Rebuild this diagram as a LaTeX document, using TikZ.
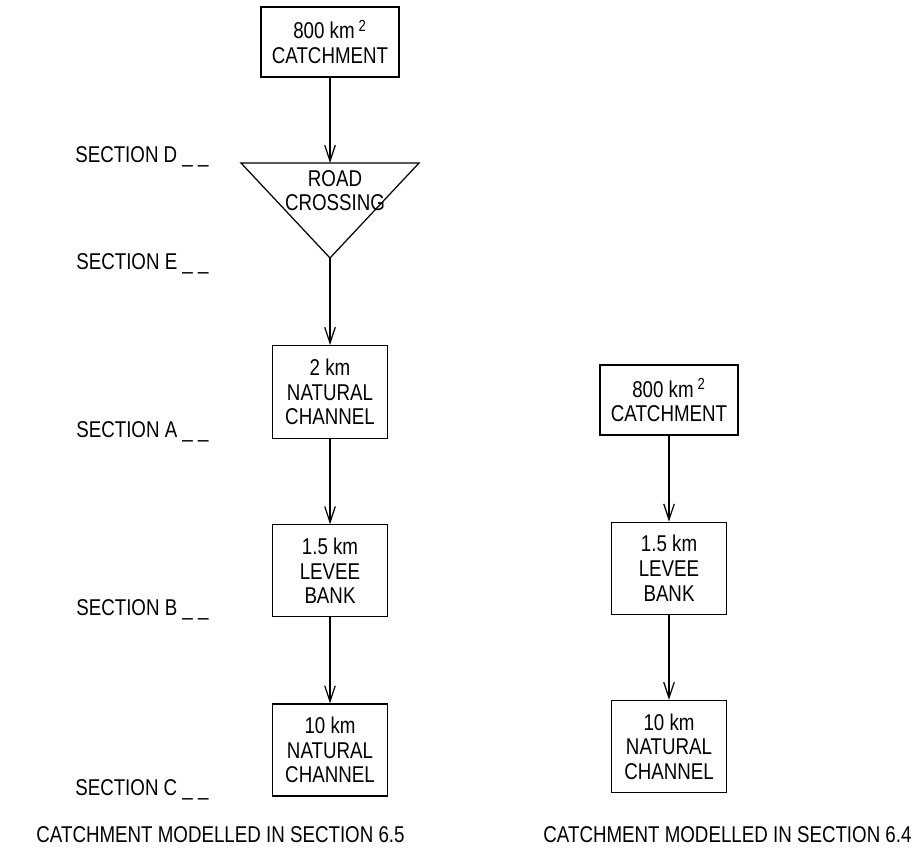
\documentclass[tikz,border=0pt]{standalone}
\usepackage{fontspec}
\setmainfont[FakeStretch=0.82]{Liberation Sans}
\usetikzlibrary{positioning, arrows.meta}
\tikzset{
  reachbox/.style={draw, rectangle, align=center, minimum width=2.3cm, minimum height=1.84cm, inner sep=2pt},
  catchbox/.style={draw, rectangle, align=center, minimum width=2.76cm, minimum height=1.4cm, inner sep=2pt},
  seclabel/.style={anchor=east},
}

\begin{document}
\begin{tikzpicture}[node distance=1.7cm, >={Straight Barb[length=9pt,width=6pt]}, line width=0.7pt, every node/.style={font=\fontsize{13}{14}\selectfont}]
\useasboundingbox (0,0) rectangle (18.4,-17.12);
% Model of Section 6.5
\node[catchbox] (catchL) at (6.6,-0.84) {800 km\,\textsuperscript{2}\\CATCHMENT};

% Road crossing
\coordinate (roadtop) at (6.6,-3.26);
\coordinate (roadleft) at (4.82,-3.26);
\coordinate (roadright) at (8.38,-3.26);
\coordinate (roadtip) at (6.6,-5.16);
\draw (roadleft) -- (roadright) -- (roadtip) -- cycle;
\node[align=center] (road) at (6.7,-3.81) {ROAD\\CROSSING};

% Reaches
\node[reachbox, minimum height=1.86cm, below=1.74cm of roadtip] (chanL) {2 km\\NATURAL\\CHANNEL};
\node[reachbox, below=1.7cm of chanL] (leveeL) {1.5 km\\LEVEE\\BANK};
\node[reachbox, below=1.72cm of leveeL] (lowerL) {10 km\\NATURAL\\CHANNEL};

% Model of Section 6.4
\node[catchbox] (catchR) at (13.38,-8.0) {800 km\,\textsuperscript{2}\\CATCHMENT};
\node[reachbox, below=1.72cm of catchR] (leveeR) {1.5 km\\LEVEE\\BANK};
\node[reachbox, below=1.7cm of leveeR] (lowerR) {10 km\\NATURAL\\CHANNEL};

% Section marks
\node[seclabel] (secD) at (4.3,-3.14) {SECTION D \_ \_};
\node[seclabel] (secE) at (4.3,-5.28) {SECTION E \_ \_};
\node[seclabel] (secA) at (4.3,-8.64) {SECTION A \_ \_};
\node[seclabel] (secB) at (4.3,-12.2) {SECTION B \_ \_};
\node[seclabel] (secC) at (4.3,-15.8) {SECTION C \_ \_};

% Captions
\node[anchor=west] (capL) at (0.6,-16.7) {CATCHMENT MODELLED IN SECTION 6.5};
\node[anchor=east] (capR) at (18.36,-16.7) {CATCHMENT MODELLED IN SECTION 6.4};

% Connections
\draw[->] (catchL) -- (roadtop);
\draw[->] (roadtip) -- (chanL);
\draw[->] (chanL) -- (leveeL);
\draw[->] (leveeL) -- (lowerL);
\draw[->] (catchR) -- (leveeR);
\draw[->] (leveeR) -- (lowerR);
\end{tikzpicture}
\end{document}
